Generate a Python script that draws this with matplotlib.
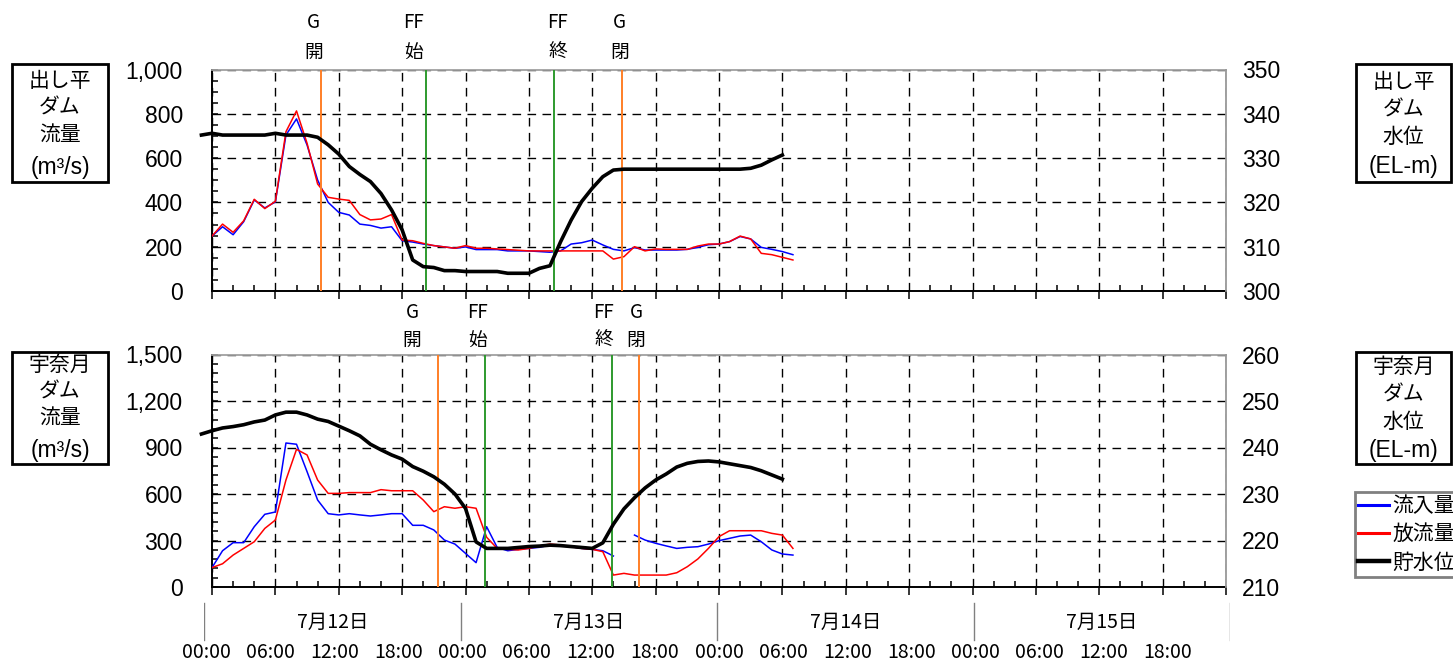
import numpy as np
import matplotlib
matplotlib.use("Agg")
import matplotlib.pyplot as plt
import matplotlib.transforms as mtransforms
from matplotlib.lines import Line2D
from matplotlib.patches import Rectangle
from matplotlib.ticker import MultipleLocator, FuncFormatter

LATIN = "Liberation Sans"
CJK = "Noto Sans CJK JP"
plt.rcParams["font.family"] = [LATIN, CJK]
plt.rcParams["lines.scale_dashes"] = False

# ---- data (hours counted from 7/12 00:00) ----
flow_hours = np.arange(0, 56)
level_hours = np.arange(-1, 55)

dashidaira_inflow = [248, 290, 254, 313, 411, 375, 402, 704, 777, 659,
                     501, 400, 355, 343, 302, 296, 284, 290, 227, 221,
                     212, 205, 199, 193, 199, 187, 187, 187, 181, 181,
                     181, 178, 175, 181, 212, 218, 230, 208, 188, 181,
                     196, 185, 185, 185, 185, 188, 197, 209, 212, 223,
                     246, 235, 197, 188, 178, 164]
dashidaira_outflow = [248, 302, 265, 317, 414, 372, 405, 719, 813, 667,
                      483, 423, 415, 409, 345, 321, 325, 345, 230, 227,
                      215, 205, 199, 193, 205, 193, 193, 190, 187, 184,
                      181, 181, 181, 181, 181, 181, 181, 181, 144, 155,
                      200, 181, 190, 188, 188, 188, 203, 212, 212, 223,
                      248, 235, 170, 164, 152, 140]
dashidaira_level = [335.2, 335.6, 335.2, 335.2, 335.2, 335.2, 335.2, 335.6, 335.2, 335.2,
                    335.2, 334.7, 333.0, 330.9, 328.1, 326.3, 324.7, 322.0, 318.3, 313.8,
                    307.0, 305.5, 305.3, 304.6, 304.6, 304.4, 304.4, 304.4, 304.4, 304.0,
                    304.0, 304.0, 305.1, 305.7, 311.1, 316.0, 320.2, 323.2, 325.8, 327.3,
                    327.5, 327.5, 327.5, 327.5, 327.5, 327.5, 327.5, 327.5, 327.5, 327.5,
                    327.5, 327.5, 327.7, 328.4, 329.6, 330.7]

unazuki_inflow = [125, 234, 286, 286, 389, 469, 484, 929, 921, 744,
                  561, 473, 465, 473, 465, 458, 465, 473, 473, 398,
                  398, 368, 303, 277, 217, 157, 389, 255, 234, 243,
                  249, 256, 271, 265, 260, 249, 243, 234, 200, np.nan,
                  335, 303, 282, 265, 249, 256, 260, 277, 299, 314,
                  329, 335, 292, 239, 213, 206]
unazuki_outflow = [125, 150, 206, 249, 292, 378, 432, 690, 888, 852,
                   690, 604, 604, 609, 609, 609, 628, 621, 621, 621,
                   561, 486, 518, 508, 518, 508, 321, 249, 243, 239,
                   249, 265, 277, 271, 260, 249, 243, 228, 77, 88,
                   77, 77, 77, 77, 92, 131, 181, 249, 325, 363,
                   363, 363, 363, 346, 335, 249]
unazuki_level = [242.9, 243.6, 244.2, 244.5, 244.9, 245.5, 245.9, 247.0, 247.6, 247.6,
                 247.0, 246.1, 245.6, 244.6, 243.6, 242.5, 240.7, 239.5, 238.4, 237.5,
                 235.9, 234.9, 233.7, 232.1, 230.0, 226.9, 219.7, 218.3, 218.3, 218.3,
                 218.5, 218.7, 218.8, 219.0, 218.9, 218.7, 218.5, 218.3, 219.5, 223.5,
                 226.8, 229.2, 231.3, 233.0, 234.3, 235.8, 236.6, 237.0, 237.1, 236.9,
                 236.5, 236.1, 235.7, 235.0, 234.1, 233.2]

# gate open / free-flow start / free-flow end / gate close
event_tops = ["G", "FF", "FF", "G"]
event_bottoms = ["開", "始", "終", "閉"]
event_kinds = ["gate", "ff", "ff", "gate"]
dashidaira_event_hours = [10.3, 20.25, 32.4, 38.8]
unazuki_event_hours = [21.4, 25.8, 37.85, 40.45]

day_labels = ["7月12日", "7月13日", "7月14日", "7月15日"]
time_labels = ["00:00", "06:00", "12:00", "18:00"]
legend_labels = ["流入量", "放流量", "貯水位"]

# ---- layout helpers (pixel based) ----
W, H = 1453, 662
fig = plt.figure(figsize=(W / 100, H / 100), dpi=100)


def fx(px):
    return px / W


def fy(py):
    return 1 - py / H


COL_IN = "#0000ff"
COL_OUT = "#ff0000"
COL_GATE = "#ff7f27"
COL_FF = "#2e9a2e"
GRID_DASH = (0, (6.2, 4.6))


def panel(top_px, bottom_px, inflow, outflow, level, fmax, fstep, fminor,
          lmin, lmax, ev_hours, label_hours, label_rows):
    ax = fig.add_axes([fx(212), fy(bottom_px), fx(1226) - fx(212),
                       fy(top_px) - fy(bottom_px)])
    ax.set_xlim(0, 96)
    ax.set_ylim(0, fmax)
    ax.xaxis.set_major_locator(MultipleLocator(6))
    ax.xaxis.set_minor_locator(MultipleLocator(2))
    ax.yaxis.set_major_locator(MultipleLocator(fstep))
    ax.yaxis.set_minor_locator(MultipleLocator(fminor))
    ax.yaxis.set_major_formatter(FuncFormatter(lambda v, p: f"{v:,.0f}"))
    ax.tick_params(axis="x", which="major", direction="out", length=6,
                   width=1.1, labelbottom=False)
    ax.tick_params(axis="x", which="minor", direction="in", length=4, width=1.1)
    ax.tick_params(axis="y", which="both", direction="in", length=4, width=1.1,
                   right=False)
    ax.tick_params(axis="y", which="major", labelsize=16.5, pad=21)
    for lab in ax.get_yticklabels():
        lab.set_family(LATIN)
    ax.grid(True, which="major", color="black", linestyle=GRID_DASH,
            linewidth=1.0)
    ax.spines["left"].set_linewidth(1.4)
    ax.spines["bottom"].set_linewidth(1.4)
    ax.spines["top"].set_color("#a0a0a0")
    ax.spines["top"].set_linewidth(1.3)
    ax.spines["right"].set_visible(False)

    ax.plot(flow_hours, inflow, color=COL_IN, lw=1.1, zorder=3)
    ax.plot(flow_hours, outflow, color=COL_OUT, lw=1.1, zorder=3)
    for t, kind in zip(ev_hours, event_kinds):
        ax.axvline(t, color=COL_GATE if kind == "gate" else COL_FF,
                   lw=1.4, zorder=4)

    ax2 = ax.twinx()
    ax2.set_ylim(lmin, lmax)
    ax2.yaxis.set_major_locator(MultipleLocator(10))
    ax2.tick_params(axis="y", length=0, labelsize=16.5, pad=11.5)
    for lab in ax2.get_yticklabels():
        lab.set_family(LATIN)
    for s in ("left", "top", "bottom"):
        ax2.spines[s].set_visible(False)
    ax2.spines["right"].set_color("#999999")
    ax2.spines["right"].set_linewidth(1.3)
    ax2.plot(level_hours, level, color="black", lw=2.6, clip_on=False,
             solid_joinstyle="round", zorder=5)

    tr = mtransforms.blended_transform_factory(ax.transData, fig.transFigure)
    for lh, t1, t2 in zip(label_hours, event_tops, event_bottoms):
        fig.text(lh, fy(label_rows[0]), t1, transform=tr, ha="center",
                 va="center", fontsize=13.5, family=CJK)
        fig.text(lh, fy(label_rows[1]), t2, transform=tr, ha="center",
                 va="center", fontsize=13.5, family=CJK)
    return ax, ax2


panel(69.5, 291, dashidaira_inflow, dashidaira_outflow, dashidaira_level,
      1000, 200, 50, 300, 350, dashidaira_event_hours,
      [9.6, 19.05, 32.7, 38.6], (22, 52))
panel(354.5, 587, unazuki_inflow, unazuki_outflow, unazuki_level,
      1500, 300, 60, 210, 260, unazuki_event_hours,
      [18.95, 25.1, 37.1, 40.15], (312, 340))


def label_box(x0, x1, y0, y1, lines, centers):
    fig.patches.append(Rectangle((fx(x0), fy(y1)), fx(x1) - fx(x0),
                                 fy(y0) - fy(y1), transform=fig.transFigure,
                                 fill=False, edgecolor="black", lw=2.0))
    xc = (x0 + x1) / 2
    for txt, yc in zip(lines, centers):
        latin = txt.startswith("(")
        fig.text(fx(xc), fy(yc), txt, ha="center", va="center",
                 fontsize=16.5 if latin else 15,
                 family=[LATIN, CJK] if latin else [CJK])


label_box(12, 108, 64, 182, ["出し平", "ダム", "流量", "(m³/s)"],
          [81, 108, 135, 167])
label_box(12, 108, 352, 464, ["宇奈月", "ダム", "流量", "(m³/s)"],
          [365, 392, 418, 451])
label_box(1356, 1451, 64, 182, ["出し平", "ダム", "水位", "(EL-m)"],
          [82, 110, 137, 166])
label_box(1356, 1451, 352, 464, ["宇奈月", "ダム", "水位", "(EL-m)"],
          [367, 395, 422, 450])

# legend
handles = [Line2D([], [], color=COL_IN, lw=2.2),
           Line2D([], [], color=COL_OUT, lw=2.2),
           Line2D([], [], color="black", lw=3.2)]
leg = fig.legend(handles, legend_labels, loc="upper left",
                 bbox_to_anchor=(fx(1355), fy(492)), borderaxespad=0,
                 frameon=True, fancybox=False, edgecolor="#808080",
                 framealpha=1, prop={"family": CJK, "size": 15},
                 handlelength=1.5, handletextpad=0.15, labelspacing=0.3,
                 borderpad=0.15)
leg.get_frame().set_linewidth(2.0)

# date strip below the lower chart
axd = fig.add_axes([fx(204), 0, fx(1230) - fx(204), 62 / H])
axd.set_xlim(0, 4)
axd.set_ylim(0, 62)
axd.axis("off")
for d in range(5):
    axd.plot([d, d], [22, 59], color="#808080", lw=1.0)
for d, lab in enumerate(day_labels):
    axd.text(d + 0.5, 40, lab, ha="center", va="center", fontsize=14,
             family=CJK)
    for k, tl in enumerate(time_labels):
        axd.text(d + k / 4 + 0.008, 10, tl, ha="center", va="center",
                 fontsize=14, family=CJK)

fig.savefig("out.png", dpi=100)
